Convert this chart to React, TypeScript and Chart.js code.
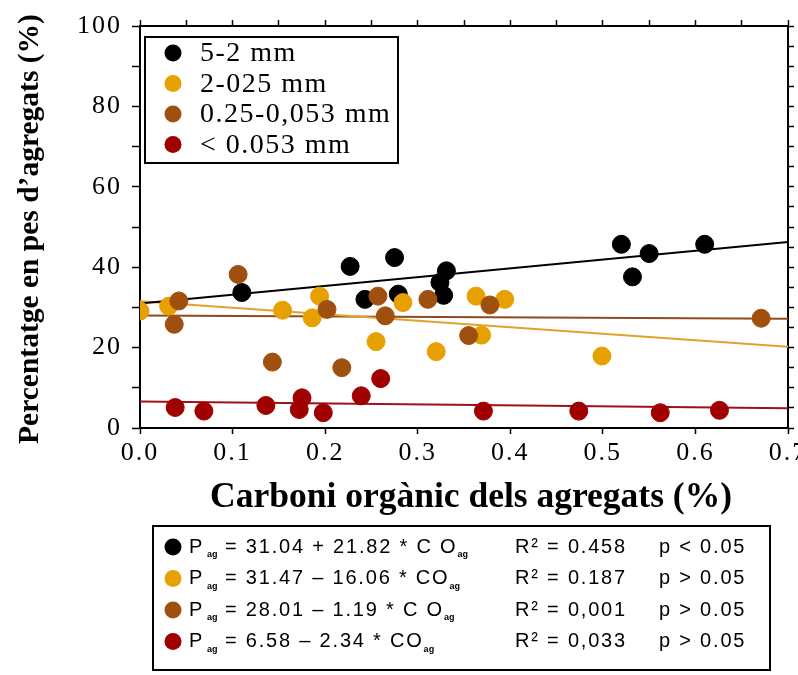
import React, { useEffect, useRef } from "react";
import { Chart, registerables } from "chart.js";

Chart.register(...registerables);

// ---- data ----
const seriesNames = ["5-2 mm", "2-025 mm", "0.25-0,053 mm", "< 0.053 mm"];
const seriesColors = ["#000000", "#E6A100", "#A0500E", "#A00000"];
const lineColors = ["#000000", "#E2A12A", "#8E4A1E", "#A01018"];

const blackX = [0.11, 0.227, 0.243, 0.275, 0.279, 0.324, 0.328, 0.331, 0.52, 0.532, 0.55, 0.61];
const blackY = [33.7, 40.2, 32.0, 42.4, 33.3, 36.2, 33.0, 39.1, 45.7, 37.6, 43.4, 45.7];
const goldX = [0.0, 0.031, 0.154, 0.186, 0.194, 0.255, 0.284, 0.32, 0.363, 0.369, 0.394, 0.499];
const goldY = [29.1, 30.3, 29.3, 27.4, 32.8, 21.5, 31.2, 19.0, 32.8, 23.1, 32.0, 17.9];
const brownX = [0.037, 0.042, 0.106, 0.143, 0.202, 0.218, 0.257, 0.265, 0.311, 0.355, 0.378, 0.671];
const brownY = [25.8, 31.6, 38.2, 16.4, 29.5, 15.0, 32.8, 27.9, 32.0, 23.0, 30.6, 27.3];
const redX = [0.038, 0.069, 0.136, 0.172, 0.175, 0.198, 0.239, 0.26, 0.371, 0.474, 0.562, 0.626];
const redY = [5.1, 4.2, 5.6, 4.6, 7.5, 3.8, 8.0, 12.3, 4.2, 4.2, 3.8, 4.4];

const fitX = [0, 0.7];
const blackFitY = [31.0, 46.3];
const goldFitY = [31.5, 20.2];
const brownFitY = [28.0, 27.2];
const redFitY = [6.6, 4.9];

const eqRhs = ["= 31.04 + 21.82 * C O", "= 31.47 \u2013 16.06 * CO", "= 28.01 \u2013 1.19 * C O", "= 6.58 \u2013 2.34 * CO"];
const r2Values = ["0.458", "0.187", "0,001", "0,033"];
const pTexts = ["p < 0.05", "p > 0.05", "p > 0.05", "p > 0.05"];

const xTitle = "Carboni org\u00e0nic dels agregats (%)";
const yTitle = "Percentatge en pes d\u2019agregats (%)";

const SERIF = "'Liberation Serif', 'Times New Roman', serif";
const SANS = "'Liberation Sans', Arial, sans-serif";

const decor = {
  id: "decor",
  beforeDraw(chart: any) {
    chart.ctx.letterSpacing = "2px";
  },
  afterDraw(chart: any) {
    const ctx = chart.ctx as CanvasRenderingContext2D;
    const ca = chart.chartArea;
    ctx.save();
    (ctx as any).letterSpacing = "0px";

    // axis titles
    ctx.fillStyle = "#000";
    ctx.font = `bold 35.5px ${SERIF}`;
    ctx.textAlign = "center";
    ctx.textBaseline = "alphabetic";
    ctx.fillText(xTitle, 471, 507);
    ctx.save();
    ctx.translate(38, 229);
    ctx.rotate(-Math.PI / 2);
    ctx.font = `bold 29.5px ${SERIF}`;
    ctx.fillText(yTitle, 0, 0);
    ctx.restore();

    // inner legend
    const lx = ca.left + 5, ly = ca.top + 11, lw = 253, lh = 126;
    ctx.fillStyle = "#fff";
    ctx.fillRect(lx, ly, lw, lh);
    ctx.lineWidth = 2;
    ctx.strokeStyle = "#000";
    ctx.strokeRect(lx, ly, lw, lh);
    ctx.font = `28px ${SERIF}`;
    (ctx as any).letterSpacing = "1.5px";
    ctx.textAlign = "left";
    ctx.textBaseline = "middle";
    seriesNames.forEach((name, i) => {
      const cy = ly + 16 + i * 30.5;
      ctx.fillStyle = seriesColors[i];
      ctx.beginPath();
      ctx.arc(lx + 28, cy, 8.5, 0, Math.PI * 2);
      ctx.fill();
      ctx.fillStyle = "#000";
      ctx.fillText(name, lx + 55, cy + 1);
    });

    // equation box
    const bx = 153, by = 526, bw = 617, bh = 144;
    ctx.fillStyle = "#fff";
    ctx.fillRect(bx, by, bw, bh);
    ctx.strokeStyle = "#000";
    ctx.lineWidth = 2;
    ctx.strokeRect(bx, by, bw, bh);
    eqRhs.forEach((rhs, i) => {
      const cy = by + 21 + i * 31.5;
      ctx.fillStyle = seriesColors[i];
      ctx.beginPath();
      ctx.arc(bx + 20, cy, 8.5, 0, Math.PI * 2);
      ctx.fill();
      ctx.fillStyle = "#000";
      ctx.textBaseline = "middle";
      ctx.font = `20px ${SANS}`;
      (ctx as any).letterSpacing = "0px";
      ctx.fillText("P", bx + 36, cy);
      ctx.font = `bold 9px ${SANS}`;
      ctx.fillText("ag", bx + 54, cy + 8);
      ctx.font = `20px ${SANS}`;
      (ctx as any).letterSpacing = "1.8px";
      ctx.fillText(rhs, bx + 72, cy);
      const w = ctx.measureText(rhs).width;
      ctx.font = `bold 9px ${SANS}`;
      (ctx as any).letterSpacing = "0px";
      ctx.fillText("ag", bx + 72 + w, cy + 8);
      ctx.font = `20px ${SANS}`;
      (ctx as any).letterSpacing = "1.8px";
      ctx.fillText("R\u00b2 = " + r2Values[i], 515, cy);
      ctx.fillText(pTexts[i], 659, cy);
    });
    ctx.restore();
    (ctx as any).letterSpacing = "0px";
  },
};

const tickFont = { family: "'Liberation Serif', 'Times New Roman', serif", size: 26 };
const gridOpts = (len: number) => ({
  drawOnChartArea: false,
  drawTicks: true,
  tickLength: len,
  color: "#000",
  tickWidth: 1.5,
});
const borderOpts = { display: true, color: "#000", width: 2 };

export default function App() {
  const ref = useRef<HTMLCanvasElement>(null);
  useEffect(() => {
    document.body.style.margin = "0";
    const canvas = ref.current!;
    const mk = (xs: number[], ys: number[]) => xs.map((x, i) => ({ x, y: ys[i] }));
    const pointSets: [number[], number[]][] = [
      [blackX, blackY],
      [goldX, goldY],
      [brownX, brownY],
      [redX, redY],
    ];
    const fits = [blackFitY, goldFitY, brownFitY, redFitY];
    const datasets: any[] = [];
    fits.forEach((fy, i) =>
      datasets.push({
        label: "fit " + seriesNames[i],
        data: mk(fitX, fy),
        showLine: true,
        borderColor: lineColors[i],
        borderWidth: 2,
        pointRadius: 0,
        fill: false,
        order: 10,
      })
    );
    const orders = [4, 3, 2, 1];
    pointSets.forEach(([xs, ys], i) =>
      datasets.push({
        label: seriesNames[i],
        data: mk(xs, ys),
        showLine: false,
        pointRadius: 9,
        pointStyle: "circle",
        backgroundColor: seriesColors[i],
        borderColor: seriesColors[i],
        borderWidth: 1,
        order: orders[i],
      })
    );

    const chart = new Chart(canvas, {
      type: "scatter",
      data: { datasets },
      options: {
        animation: false,
        responsive: false,
        devicePixelRatio: 1,
        layout: { padding: 0 },
        plugins: { legend: { display: false }, tooltip: { enabled: false } },
        scales: {
          x: {
            type: "linear",
            position: "bottom",
            min: 0,
            max: 0.7,
            ticks: {
              stepSize: 0.1,
              font: tickFont,
              color: "#000",
              padding: 4,
              maxRotation: 0,
              autoSkip: false,
              callback: (v: any) => Number(v).toFixed(1),
            },
            grid: gridOpts(6),
            border: borderOpts,
            afterFit: (s: any) => {
              s.height = 247;
              s.paddingLeft = 0;
              s.paddingRight = 0;
            },
          },
          x2: {
            type: "linear",
            axis: "x",
            position: "top",
            min: 0,
            max: 0.7,
            display: true,
            ticks: { stepSize: 0.05, display: false },
            grid: gridOpts(6),
            border: borderOpts,
            afterFit: (s: any) => {
              s.height = 26;
              s.paddingLeft = 0;
              s.paddingRight = 0;
            },
          },
          y: {
            type: "linear",
            position: "left",
            min: 0,
            max: 100,
            ticks: {
              stepSize: 10,
              font: tickFont,
              color: "#000",
              padding: 10,
              autoSkip: false,
              callback: (v: any) => (Math.round(v) % 20 === 0 ? String(Math.round(v)) : ""),
            },
            grid: gridOpts(8),
            border: borderOpts,
            afterFit: (s: any) => {
              s.width = 140;
              s.paddingTop = 0;
              s.paddingBottom = 0;
            },
          },
          y2: {
            type: "linear",
            axis: "y",
            position: "right",
            min: 0,
            max: 100,
            display: true,
            ticks: { stepSize: 5, display: false },
            grid: gridOpts(6),
            border: borderOpts,
            afterFit: (s: any) => {
              s.width = 10;
              s.paddingTop = 0;
              s.paddingBottom = 0;
            },
          },
        },
      } as any,
      plugins: [decor],
    });
    return () => chart.destroy();
  }, []);
  return (
    <div style={{ width: 798, height: 675, background: "#fff" }}>
      <canvas ref={ref} width={798} height={675} style={{ display: "block", width: 798, height: 675 }} />
    </div>
  );
}
